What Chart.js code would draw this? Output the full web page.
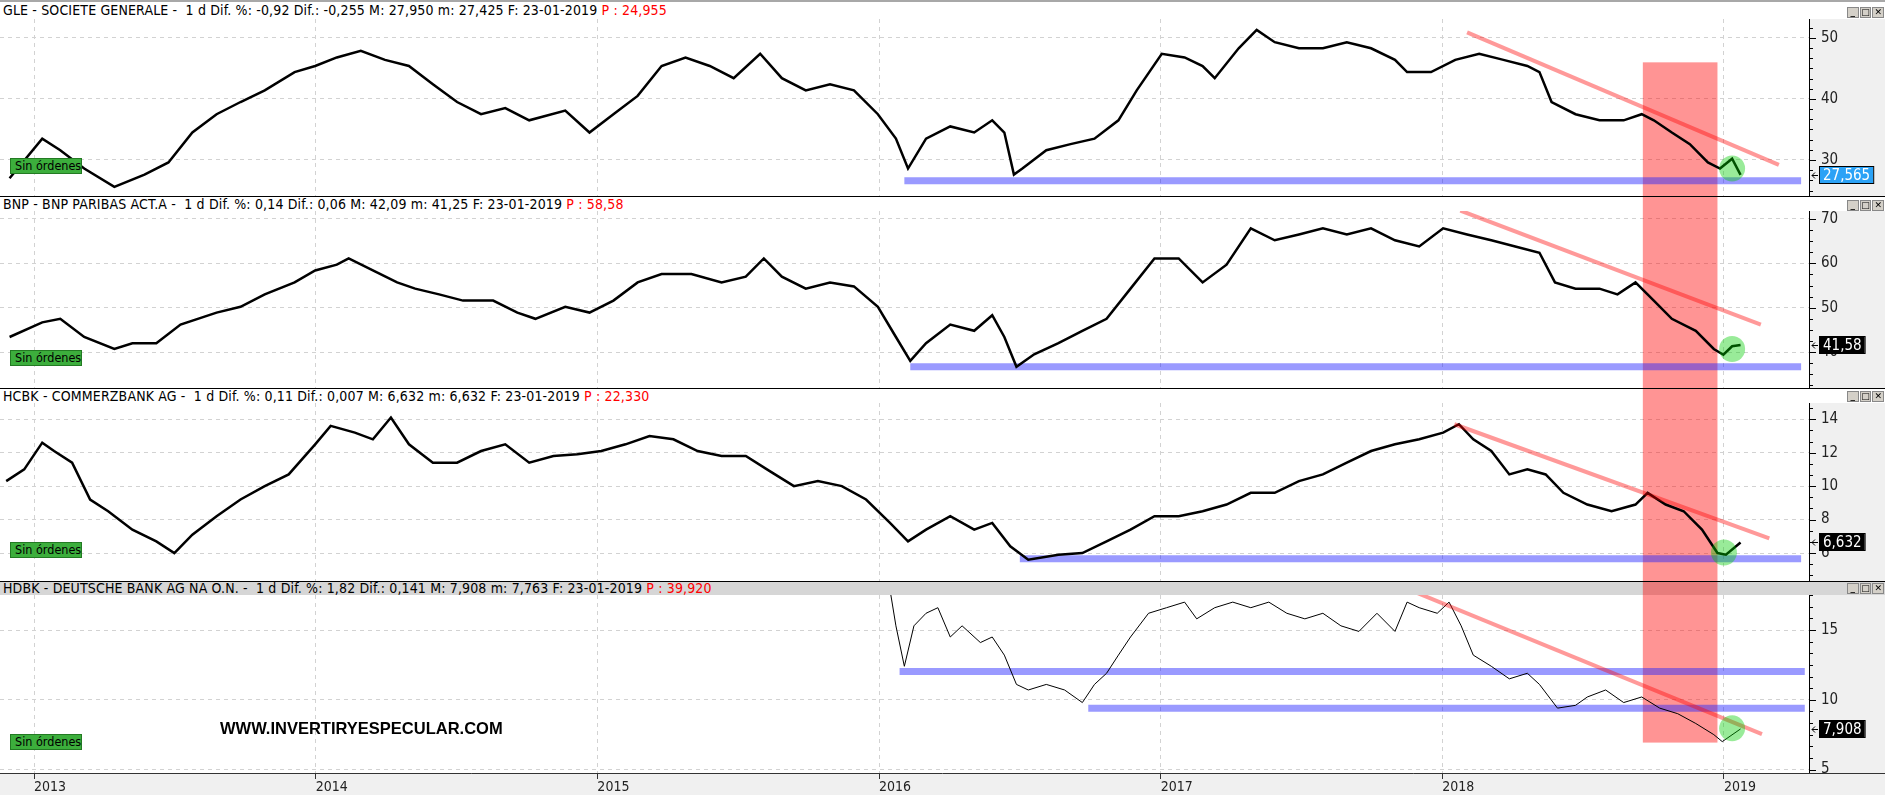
<!DOCTYPE html>
<html>
<head>
<meta charset="utf-8">
<script src="https://cdn.jsdelivr.net/npm/chart.js@4.4.1/dist/chart.umd.min.js"></script>
<style>
body{margin:0;width:1885px;height:795px;overflow:hidden;background:#fff;position:relative;
  font-family:"Liberation Sans Narrow","DejaVu Sans Condensed",sans-serif;}
canvas{position:absolute;left:0;z-index:1}
.head{position:absolute;left:0;width:1882px;padding-left:3px;font-size:14px;letter-spacing:0.15px;white-space:pre;color:#000;z-index:0}
.red{color:#f00}
.sep{position:absolute;left:0;width:1885px;height:1px;background:#000;z-index:3}
.sin{position:absolute;left:10px;width:72px;height:16px;background:#3cae3c;border:1px solid #237a23;
  font-size:12.5px;line-height:14px;padding-left:4px;box-sizing:border-box;white-space:nowrap;overflow:hidden;z-index:3}
.mark{position:absolute;left:220px;top:719px;font:bold 16.5px "Liberation Sans",Arial,sans-serif;color:#000;z-index:3}
.btns{position:absolute;left:1847px;width:37px;height:10px;z-index:3;display:flex;gap:1px}
.btns span{width:11px;height:9px;background:#d4d0c8;border:1px solid #888;font:bold 9px "DejaVu Sans",sans-serif;
  line-height:8px;text-align:center;color:#000}
</style>
</head>
<body>
<div class="head" style="top:0;height:19px;line-height:20px">GLE - SOCIETE GENERALE -  1 d Dif. %: -0,92 Dif.: -0,255 M: 27,950 m: 27,425 F: 23-01-2019 <span class="red">P : 24,955</span></div>
<div class="head" style="top:197px;height:14px;line-height:14px">BNP - BNP PARIBAS ACT.A -  1 d Dif. %: 0,14 Dif.: 0,06 M: 42,09 m: 41,25 F: 23-01-2019 <span class="red">P : 58,58</span></div>
<div class="head" style="top:389px;height:14px;line-height:14px">HCBK - COMMERZBANK AG -  1 d Dif. %: 0,11 Dif.: 0,007 M: 6,632 m: 6,632 F: 23-01-2019 <span class="red">P : 22,330</span></div>
<div class="head" style="top:581px;height:14px;line-height:14px;background:#d6d6d6">HDBK - DEUTSCHE BANK AG NA O.N. -  1 d Dif. %: 1,82 Dif.: 0,141 M: 7,908 m: 7,763 F: 23-01-2019 <span class="red">P : 39,920</span></div>

<canvas id="c1" width="1885" height="196" style="top:0"></canvas>
<canvas id="c2" width="1885" height="192" style="top:196px"></canvas>
<canvas id="c3" width="1885" height="194" style="top:388px"></canvas>
<canvas id="c4" width="1885" height="213" style="top:582px"></canvas>

<div class="sep" style="top:0;height:2px;background:#a8a8a8"></div>
<div class="sep" style="top:196px"></div>
<div class="sep" style="top:388px"></div>
<div class="sep" style="top:581px"></div>

<div class="btns" style="top:7px"><span>_</span><span>□</span><span>✕</span></div>
<div class="btns" style="top:200px"><span>_</span><span>□</span><span>✕</span></div>
<div class="btns" style="top:391px"><span>_</span><span>□</span><span>✕</span></div>
<div class="btns" style="top:583px"><span>_</span><span>□</span><span>✕</span></div>

<div class="sin" style="top:158px">Sin órdenes</div>
<div class="sin" style="top:350px">Sin órdenes</div>
<div class="sin" style="top:542px">Sin órdenes</div>
<div class="sin" style="top:734px">Sin órdenes</div>
<div class="mark">WWW.INVERTIRYESPECULAR.COM</div>

<script>
// years on the time axis
var years = [2013, 2014, 2015, 2016, 2017, 2018, 2019];

// Societe Generale
var gleT = [2012.913,2013.029,2013.093,2013.178,2013.285,2013.392,2013.477,2013.562,2013.648,2013.733,2013.819,2013.925,2013.998,2014.075,2014.160,2014.246,2014.331,2014.416,2014.502,2014.587,2014.673,2014.758,2014.886,2014.972,2015.057,2015.143,2015.228,2015.313,2015.399,2015.484,2015.578,2015.655,2015.740,2015.826,2015.911,2015.996,2016.060,2016.103,2016.167,2016.253,2016.338,2016.402,2016.445,2016.479,2016.509,2016.594,2016.680,2016.765,2016.850,2016.915,2017.004,2017.085,2017.149,2017.192,2017.277,2017.341,2017.405,2017.491,2017.576,2017.661,2017.747,2017.832,2017.875,2017.960,2018.046,2018.131,2018.217,2018.302,2018.345,2018.388,2018.473,2018.558,2018.644,2018.708,2018.751,2018.815,2018.879,2018.943,2018.986,2019.029,2019.059];
var gleV = [27.0,33.5,31.6,28.6,25.6,27.6,29.6,34.5,37.5,39.5,41.4,44.4,45.4,46.8,47.9,46.4,45.4,42.4,39.5,37.5,38.5,36.5,38.1,34.5,37.5,40.5,45.4,46.8,45.4,43.4,47.4,43.4,41.4,42.4,41.4,37.5,33.5,28.6,33.5,35.5,34.5,36.5,34.5,27.6,28.6,31.6,32.6,33.5,36.5,41.4,47.4,46.8,45.4,43.4,48.3,51.3,49.3,48.3,48.3,49.3,48.3,46.4,44.4,44.4,46.4,47.4,46.4,45.4,44.4,39.5,37.5,36.5,36.5,37.5,36.5,34.5,32.6,29.6,28.6,30.2,27.565];

// BNP Paribas
var bnpT = [2012.913,2013.029,2013.093,2013.178,2013.285,2013.349,2013.434,2013.520,2013.648,2013.733,2013.819,2013.925,2013.998,2014.075,2014.117,2014.203,2014.289,2014.353,2014.438,2014.523,2014.630,2014.716,2014.780,2014.886,2014.972,2015.057,2015.143,2015.228,2015.334,2015.441,2015.527,2015.591,2015.655,2015.740,2015.826,2015.911,2015.996,2016.060,2016.111,2016.167,2016.253,2016.338,2016.402,2016.445,2016.488,2016.551,2016.637,2016.722,2016.808,2016.893,2016.978,2017.064,2017.149,2017.234,2017.320,2017.405,2017.491,2017.576,2017.661,2017.747,2017.832,2017.918,2018.003,2018.088,2018.174,2018.259,2018.345,2018.400,2018.473,2018.558,2018.622,2018.686,2018.751,2018.815,2018.900,2018.964,2018.998,2019.029,2019.059];
var bnpV = [43.4,46.7,47.5,43.4,40.7,42.0,42.0,46.2,48.9,50.2,53.0,55.7,58.4,59.7,61.1,58.4,55.7,54.3,53.0,51.6,51.6,48.9,47.5,50.2,48.9,51.6,55.7,57.6,57.6,55.7,57.0,61.1,57.0,54.3,55.7,54.8,50.2,43.4,38.0,42.0,46.2,44.8,48.3,43.4,36.7,39.5,42.0,44.8,47.5,54.3,61.1,61.1,55.7,59.7,67.9,65.2,66.5,67.9,66.5,67.9,65.2,63.8,67.9,66.5,65.2,63.8,62.4,55.7,54.3,54.3,53.0,55.7,51.6,47.5,44.8,40.7,39.4,41.3,41.58];

// Commerzbank
var cbkT = [2012.901,2012.965,2013.029,2013.071,2013.135,2013.199,2013.263,2013.349,2013.434,2013.498,2013.562,2013.648,2013.733,2013.819,2013.904,2013.998,2014.053,2014.139,2014.203,2014.267,2014.331,2014.416,2014.502,2014.587,2014.673,2014.758,2014.844,2014.929,2015.014,2015.100,2015.185,2015.270,2015.356,2015.441,2015.527,2015.612,2015.698,2015.783,2015.868,2015.954,2016.039,2016.103,2016.167,2016.253,2016.338,2016.402,2016.466,2016.530,2016.637,2016.722,2016.808,2016.893,2016.978,2017.064,2017.149,2017.234,2017.320,2017.405,2017.491,2017.576,2017.661,2017.747,2017.832,2017.918,2018.003,2018.059,2018.110,2018.174,2018.238,2018.302,2018.367,2018.430,2018.515,2018.601,2018.686,2018.729,2018.793,2018.857,2018.922,2018.977,2019.007,2019.059];
var cbkV = [10.3,11.0,12.6,12.1,11.4,9.2,8.5,7.4,6.7,6.0,7.1,8.2,9.2,10.0,10.7,12.5,13.6,13.2,12.8,14.1,12.5,11.4,11.4,12.1,12.5,11.4,11.8,11.9,12.1,12.5,13.0,12.8,12.1,11.8,11.8,10.9,10.0,10.3,10.0,9.2,7.8,6.7,7.4,8.2,7.4,7.8,6.4,5.6,5.9,6.0,6.7,7.4,8.2,8.2,8.5,8.9,9.6,9.6,10.3,10.7,11.4,12.1,12.5,12.8,13.2,13.7,12.8,12.1,10.7,11.0,10.7,9.6,8.9,8.5,8.9,9.6,8.9,8.5,7.4,6.0,5.9,6.632];

// Deutsche Bank
var dbkT = [2016.030,2016.060,2016.090,2016.124,2016.167,2016.209,2016.253,2016.295,2016.360,2016.402,2016.445,2016.488,2016.530,2016.594,2016.659,2016.722,2016.765,2016.808,2016.850,2016.893,2016.957,2017.021,2017.085,2017.128,2017.192,2017.256,2017.320,2017.384,2017.448,2017.512,2017.576,2017.640,2017.704,2017.768,2017.832,2017.875,2017.918,2017.982,2018.024,2018.067,2018.110,2018.174,2018.238,2018.302,2018.345,2018.409,2018.473,2018.515,2018.580,2018.644,2018.708,2018.772,2018.836,2018.900,2018.964,2018.994,2019.059];
var dbkV = [19.0,15.3,12.4,15.3,16.2,16.6,14.5,15.3,14.1,14.5,13.2,11.1,10.7,11.1,10.7,9.8,11.1,11.9,13.2,14.5,16.2,16.6,17.0,15.8,16.6,17.0,16.6,17.0,16.2,15.8,16.2,15.3,14.9,16.2,14.9,17.0,16.6,16.2,17.0,15.3,13.2,12.4,11.5,11.9,11.1,9.4,9.6,10.2,10.7,9.8,10.2,9.4,9.0,8.3,7.5,7.0,7.908];

// drawn annotations (time, price)
var zoneT = [2018.712, 2018.977];
var gleTrend = [[2018.088, 50.9], [2019.195, 29.2]];
var gleSupport = [[2016.090, 2019.274, 26.6]];
var gleCircle = [2019.029, 28.6];
var bnpTrend = [[2018.064, 71.9], [2019.131, 46.2]];
var bnpSupport = [[2016.111, 2019.274, 36.7]];
var bnpCircle = [2019.029, 40.7];
var cbkTrend = [[2018.043, 13.7], [2019.161, 6.88]];
var cbkSupport = [[2016.500, 2019.274, 5.66]];
var cbkCircle = [2019.000, 6.03];
var dbkTrend = [[2017.873, 17.97], [2019.135, 7.53]];
var dbkSupport = [[2016.073, 2019.287, 12.03], [2016.743, 2019.287, 9.4]];
var dbkCircle = [2019.029, 7.95];

var FONT = '"Liberation Sans Narrow", "DejaVu Sans Condensed", sans-serif';
var X_MIN = 2012.879, X_MAX = 2019.302;

function buildTicks(first, gap, per, lo, hi) {
  var out = [];
  for (var k = -60; k <= 120; k++) {
    var v = first + k * gap / per;
    if (v >= lo && v <= hi) out.push({value: Math.round(v * 1000) / 1000, major: k % per === 0});
  }
  return out;
}

function overlay(p) {
  return {
    id: 'overlay_' + p.id,
    beforeDraw: function (chart) {
      var ctx = chart.ctx, a = chart.chartArea;
      ctx.save();
      ctx.fillStyle = '#f0f0f0';
      ctx.fillRect(a.right, a.top, chart.width - a.right, a.bottom - a.top);
      if (p.axis) ctx.fillRect(0, a.bottom, chart.width, chart.height - a.bottom);
      ctx.restore();
    },
    beforeDatasetsDraw: function (chart) {
      var ctx = chart.ctx, a = chart.chartArea, x = chart.scales.x, y = chart.scales.y;
      ctx.save();
      var x1 = x.getPixelForValue(zoneT[0]), x2 = x.getPixelForValue(zoneT[1]);
      var top = p.zoneTop == null ? 0 : y.getPixelForValue(p.zoneTop);
      var bot = p.zoneBottom == null ? chart.height : y.getPixelForValue(p.zoneBottom);
      ctx.fillStyle = 'rgba(255,0,0,0.42)';
      ctx.fillRect(x1, top, x2 - x1, bot - top);
      ctx.strokeStyle = 'rgba(30,30,255,0.45)';
      ctx.lineWidth = 7;
      p.support.forEach(function (s) {
        var yy = y.getPixelForValue(s[2]);
        ctx.beginPath();
        ctx.moveTo(x.getPixelForValue(s[0]), yy);
        ctx.lineTo(x.getPixelForValue(s[1]), yy);
        ctx.stroke();
      });
      ctx.restore();
    },
    afterDatasetsDraw: function (chart) {
      var ctx = chart.ctx, a = chart.chartArea, x = chart.scales.x, y = chart.scales.y;
      ctx.save();
      ctx.beginPath(); ctx.rect(a.left, a.top, a.right - a.left, a.bottom - a.top); ctx.clip();
      ctx.strokeStyle = 'rgba(255,0,0,0.4)';
      ctx.lineWidth = 4;
      ctx.beginPath();
      ctx.moveTo(x.getPixelForValue(p.trend[0][0]), y.getPixelForValue(p.trend[0][1]));
      ctx.lineTo(x.getPixelForValue(p.trend[1][0]), y.getPixelForValue(p.trend[1][1]));
      ctx.stroke();
      ctx.fillStyle = 'rgba(0,205,0,0.4)';
      ctx.beginPath();
      ctx.arc(x.getPixelForValue(p.circle[0]), y.getPixelForValue(p.circle[1]), 13, 0, Math.PI * 2);
      ctx.fill();
      ctx.restore();
    },
    afterDraw: function (chart) {
      var ctx = chart.ctx, a = chart.chartArea, y = chart.scales.y;
      ctx.save();
      if (p.axis) {
        ctx.fillStyle = '#f0f0f0';
        ctx.fillRect(a.right + 1, a.bottom, chart.width - a.right, chart.height - a.bottom);
        ctx.strokeStyle = '#333';
        ctx.beginPath(); ctx.moveTo(0, a.bottom + 0.5); ctx.lineTo(chart.width, a.bottom + 0.5); ctx.stroke();
      }
      // value axis line and tick marks
      ctx.strokeStyle = '#000';
      ctx.lineWidth = 1;
      ctx.beginPath();
      ctx.moveTo(a.right + 0.5, a.top); ctx.lineTo(a.right + 0.5, a.bottom);
      y.ticks.forEach(function (tk) {
        var py = Math.round(y.getPixelForValue(tk.value)) + 0.5;
        ctx.moveTo(a.right, py); ctx.lineTo(a.right + (tk.major ? 7 : 4), py);
      });
      ctx.stroke();
      // last price box
      var last = p.v[p.v.length - 1];
      var label = String(last).replace('.', ',');
      var yy = Math.round(y.getPixelForValue(last));
      ctx.font = '15px ' + FONT;
      var w = ctx.measureText(label).width + 7;
      ctx.fillStyle = p.boxColor;
      ctx.fillRect(a.right + 10, yy - 9, w, 18);
      ctx.strokeStyle = '#000';
      ctx.strokeRect(a.right + 10.5, yy - 8.5, w, 17);
      ctx.fillStyle = '#fff';
      ctx.textBaseline = 'middle';
      ctx.fillText(label, a.right + 14, yy + 1);
      ctx.strokeStyle = '#000';
      ctx.beginPath();
      ctx.moveTo(a.right + 3, yy + 0.5); ctx.lineTo(a.right + 9, yy + 0.5);
      ctx.moveTo(a.right + 6, yy - 2.5); ctx.lineTo(a.right + 3, yy + 0.5); ctx.lineTo(a.right + 6, yy + 3.5);
      ctx.stroke();
      ctx.restore();
    }
  };
}

function makeChart(p) {
  var xAxis = {
    type: 'linear', min: X_MIN, max: X_MAX,
    afterBuildTicks: function (s) { s.ticks = years.map(function (v) { return {value: v}; }); },
    grid: {color: '#d2d2d2', drawTicks: false},
    border: {display: false, dash: [4, 4]},
    ticks: {display: false},
    afterFit: function (s) { s.height = 0; s.paddingLeft = 0; s.paddingRight = 0; }
  };
  if (p.axis) {
    xAxis.grid = {color: '#d2d2d2', drawTicks: true, tickLength: 6, tickColor: '#333'};
    xAxis.ticks = {display: true, align: 'start', padding: 0, color: '#222', autoSkip: false, maxRotation: 0,
      font: {family: FONT, size: 14}, callback: function (v) { return String(v); }};
    xAxis.afterFit = function (s) { s.height = 22; s.paddingLeft = 0; s.paddingRight = 0; };
  }
  return new Chart(document.getElementById(p.id), {
    type: 'line',
    data: {
      datasets: [{
        data: p.t.map(function (t, i) { return {x: t, y: p.v[i]}; }),
        borderColor: '#000', borderWidth: p.lw, pointRadius: 0, tension: 0, fill: false
      }]
    },
    options: {
      responsive: false, animation: false, devicePixelRatio: 1,
      layout: {padding: {top: p.head, left: 0, right: 0, bottom: 0}},
      plugins: {legend: {display: false}, tooltip: {enabled: false}},
      scales: {
        x: xAxis,
        y: {
          position: 'right', min: p.min, max: p.max,
          afterBuildTicks: function (s) { s.ticks = p.ticks.map(function (t) { return {value: t.value, major: t.major}; }); },
          ticks: {autoSkip: false, padding: 12, color: '#222', font: {family: FONT, size: 15},
            callback: function (v, i, ts) { return ts[i].major ? String(v) : ''; }},
          grid: {drawTicks: false, color: function (c) { return c.tick && c.tick.major ? '#d2d2d2' : 'rgba(0,0,0,0)'; }},
          border: {display: false, dash: [4, 4]},
          afterFit: function (s) { s.width = 76; s.paddingTop = 0; s.paddingBottom = 0; }
        }
      }
    },
    plugins: [overlay(p)]
  });
}

makeChart({id: 'c1', t: gleT, v: gleV, lw: 2.5, head: 19, min: 24.1, max: 53.1,
  ticks: buildTicks(30, 10, 6, 24.1, 53.1), trend: gleTrend, support: gleSupport, circle: gleCircle,
  zoneTop: 46.0, zoneBottom: null, boxColor: '#2ba2f6'});
makeChart({id: 'c2', t: bnpT, v: bnpV, lw: 2.5, head: 15, min: 31.9, max: 71.8,
  ticks: buildTicks(40, 10, 4, 31.9, 71.8), trend: bnpTrend, support: bnpSupport, circle: bnpCircle,
  zoneTop: null, zoneBottom: null, boxColor: '#000'});
makeChart({id: 'c3', t: cbkT, v: cbkV, lw: 2.5, head: 15, min: 4.27, max: 14.97,
  ticks: buildTicks(6, 2, 3, 4.27, 14.97), trend: cbkTrend, support: cbkSupport, circle: cbkCircle,
  zoneTop: null, zoneBottom: null, boxColor: '#000'});
makeChart({id: 'c4', t: dbkT, v: dbkV, lw: 1, head: 13, min: 4.75, max: 17.51, axis: true,
  ticks: buildTicks(5, 5, 6, 4.75, 17.51), trend: dbkTrend, support: dbkSupport, circle: dbkCircle,
  zoneTop: null, zoneBottom: 6.93, boxColor: '#000'});
</script>
</body>
</html>
